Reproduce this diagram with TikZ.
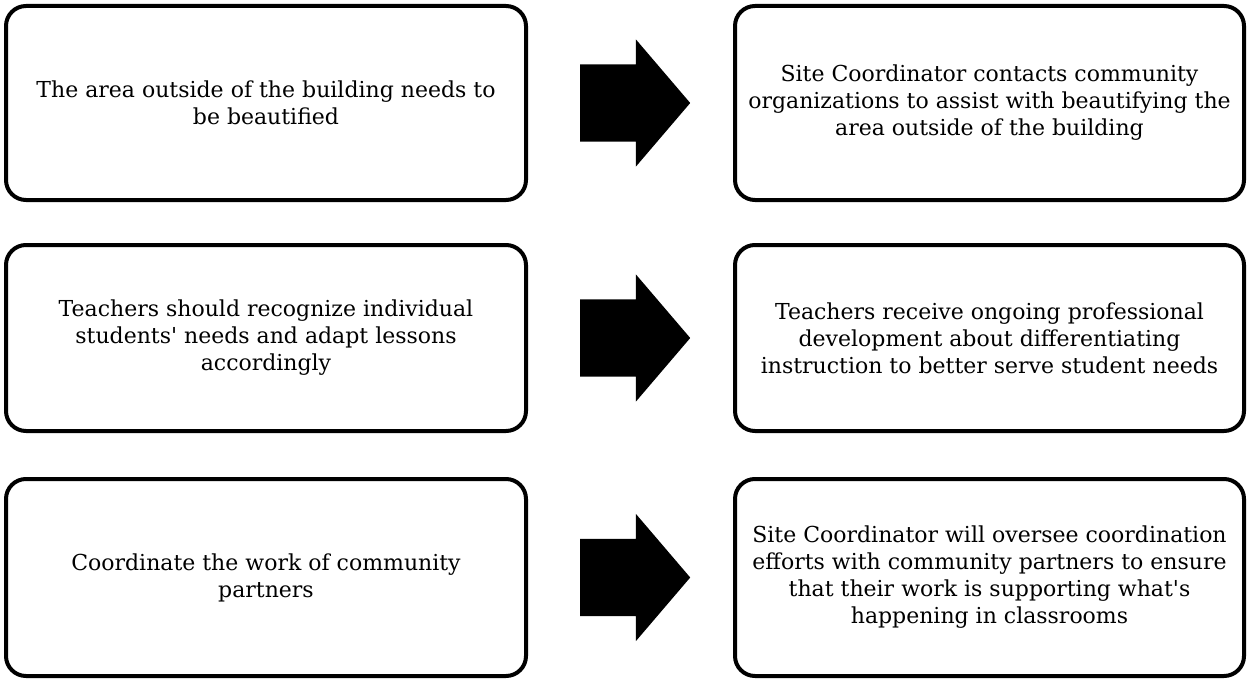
\documentclass[tikz,border=0pt]{standalone}
\usepackage{fontspec}
\setmainfont{DejaVu Serif}
\usetikzlibrary{calc}
\usetikzlibrary{shapes.arrows}
\newcommand\q{\textquotesingle}
\tikzstyle{box}=[draw,line width=4pt,rounded corners=20pt,align=center,inner sep=0pt,font=\fontsize{22}{27}\selectfont]
\tikzstyle{need}=[box,minimum width=520pt]
\tikzstyle{plan}=[box,minimum width=509pt]
\tikzstyle{fat}=[single arrow,fill=black,draw=none,inner xsep=0pt,inner ysep=38.5pt,anchor=tail,
  minimum height=110pt,single arrow head extend=25pt,single arrow tip angle=99]

\begin{document}
\begin{tikzpicture}[x=1pt,y=-1pt]
  \useasboundingbox (0,0) rectangle (1249,679);
  % needs
  \node[need,minimum height=194pt] (n1) at (266,103)
    {The area outside of the building needs to\\be beautified};
  \node[need,minimum height=186pt] (n2) at (266,338)
    {Teachers should recognize individual\\students\q{} needs and adapt lessons\\accordingly};
  \node[need,minimum height=197pt] (n3) at (266,577.5)
    {Coordinate the work of community\\partners};
  % plans
  \node[plan,minimum height=194pt] (p1) at (989.5,103)
    {Site Coordinator contacts community\\organizations to assist with beautifying the\\area outside of the building};
  \node[plan,minimum height=186pt] (p2) at (989.5,338)
    {Teachers receive ongoing professional\\development about differentiating\\instruction to better serve student needs};
  \node[plan,minimum height=197pt] (p3) at (989.5,577.5)
    {Site Coordinator will oversee coordination\\efforts with community partners to ensure\\that their work is supporting what\q{}s\\happening in classrooms};
  % arrows
  \node[fat] (a1) at ($(n1.east)+(52,0)$) {};
  \node[fat] (a2) at ($(n2.east)+(52,0)$) {};
  \node[fat] (a3) at ($(n3.east)+(52,0)$) {};
\end{tikzpicture}
\end{document}
